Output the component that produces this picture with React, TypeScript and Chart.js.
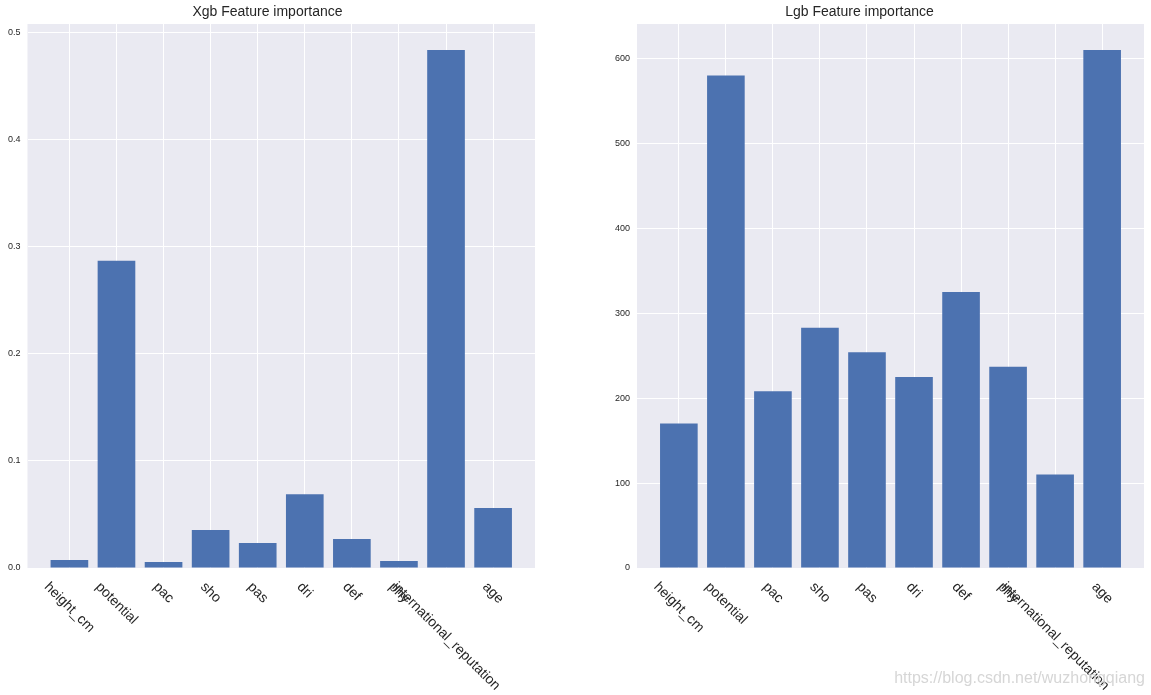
import React, { useEffect, useRef } from "react";
import { Chart, registerables } from "chart.js";

Chart.register(...registerables);

const features = [
  "height_cm",
  "potential",
  "pac",
  "sho",
  "pas",
  "dri",
  "def",
  "phy",
  "international_reputation",
  "age",
];
const xgbImportance = [0.0075, 0.287, 0.0056, 0.0355, 0.0234, 0.069, 0.027, 0.0065, 0.484, 0.056];
const lgbImportance = [170, 580, 208, 283, 254, 225, 325, 237, 110, 610];
const xgbYMax = 0.5082;
const xgbYStep = 0.1;
const lgbYMax = 640.5;
const lgbYStep = 100;
const xgbTitle = "Xgb Feature importance";
const lgbTitle = "Lgb Feature importance";
const watermark = "https://blog.csdn.net/wuzhongqiang";

const FONT = '"Liberation Sans", Arial, Helvetica, sans-serif';
const BAR = "#4C72B0";
const BG = "#EAEAF2";
const TXT = "#262626";

type Cfg = {
  title: string;
  values: number[];
  yMax: number;
  yStep: number;
  yWidth: number;
  padRight: number;
  decimals: number;
  mark: boolean;
};

function makeChart(canvas: HTMLCanvasElement, cfg: Cfg) {
  const bgPlugin = {
    id: "bgFill",
    beforeDraw(chart: any) {
      const { ctx, chartArea } = chart;
      ctx.save();
      ctx.fillStyle = BG;
      ctx.fillRect(chartArea.left, chartArea.top, chartArea.right - chartArea.left, chartArea.bottom - chartArea.top);
      ctx.restore();
    },
  };
  const labelPlugin = {
    id: "rotLabels",
    afterDraw(chart: any) {
      const { ctx, chartArea } = chart;
      const xs = chart.scales.x;
      ctx.save();
      ctx.font = `14px ${FONT}`;
      ctx.fillStyle = TXT;
      ctx.textAlign = "center";
      ctx.textBaseline = "middle";
      const h = 16;
      const c = Math.SQRT1_2;
      features.forEach((label, i) => {
        const px = xs.getPixelForValue(i);
        const L = ctx.measureText(label).width;
        const W = (L + h) * c;
        const top = chartArea.bottom + 11;
        ctx.save();
        ctx.translate(px, top + W / 2);
        ctx.rotate(Math.PI / 4);
        ctx.fillText(label, 0, 0);
        ctx.restore();
      });
      if (cfg.mark) {
        ctx.font = `16px ${FONT}`;
        ctx.fillStyle = "#d6d6d6";
        ctx.textAlign = "right";
        ctx.textBaseline = "alphabetic";
        ctx.fillText(watermark, chart.width - 6, 683);
      }
      ctx.restore();
    },
  };

  return new Chart(canvas, {
    type: "bar",
    data: {
      datasets: [
        {
          data: cfg.values.map((v, i) => ({ x: i, y: v })),
          backgroundColor: BAR,
          borderWidth: 0,
          inflateAmount: 0,
          barPercentage: 0.8,
          categoryPercentage: 1,
        },
      ],
    },
    options: {
      responsive: false,
      maintainAspectRatio: false,
      animation: false,
      devicePixelRatio: 1,
      layout: { padding: { left: 0, right: cfg.padRight, top: 0, bottom: 0 } },
      plugins: {
        legend: { display: false },
        tooltip: { enabled: false },
        title: {
          display: true,
          text: cfg.title,
          color: TXT,
          font: { family: FONT, size: 14, weight: "normal", lineHeight: 1.2 },
          padding: { top: 4, bottom: 3.2 },
        },
      },
      scales: {
        x: {
          type: "linear",
          offset: false,
          min: -0.89,
          max: 9.89,
          ticks: { display: false, stepSize: 1, includeBounds: false },
          grid: { offset: false, color: "#ffffff", lineWidth: 1, drawTicks: false },
          border: { display: false },
          afterFit: (s: any) => {
            s.height = 127;
          },
        },
        y: {
          type: "linear",
          min: 0,
          max: cfg.yMax,
          ticks: {
            stepSize: cfg.yStep,
            includeBounds: false,
            padding: 7,
            color: TXT,
            font: { family: FONT, size: 9 },
            callback: (v: any) => Number(v).toFixed(cfg.decimals),
          },
          grid: { color: "#ffffff", lineWidth: 1, drawTicks: false },
          border: { display: false },
          afterFit: (s: any) => {
            s.width = cfg.yWidth;
          },
        },
      },
    },
    plugins: [bgPlugin, labelPlugin],
  } as any);
}

export default function App() {
  const leftRef = useRef<HTMLCanvasElement>(null);
  const rightRef = useRef<HTMLCanvasElement>(null);

  useEffect(() => {
    const a = makeChart(leftRef.current!, {
      title: xgbTitle,
      values: xgbImportance,
      yMax: xgbYMax,
      yStep: xgbYStep,
      yWidth: 27.5,
      padRight: 40,
      decimals: 1,
      mark: false,
    });
    const b = makeChart(rightRef.current!, {
      title: lgbTitle,
      values: lgbImportance,
      yMax: lgbYMax,
      yStep: lgbYStep,
      yWidth: 62,
      padRight: 7,
      decimals: 0,
      mark: true,
    });
    return () => {
      a.destroy();
      b.destroy();
    };
  }, []);

  return (
    <div style={{ position: "fixed", left: 0, top: 0, width: 1151, height: 695, background: "#fff" }}>
      <canvas ref={leftRef} width={575} height={695} style={{ position: "absolute", left: 0, top: 0, width: 575, height: 695 }} />
      <canvas ref={rightRef} width={576} height={695} style={{ position: "absolute", left: 575, top: 0, width: 576, height: 695 }} />
    </div>
  );
}
